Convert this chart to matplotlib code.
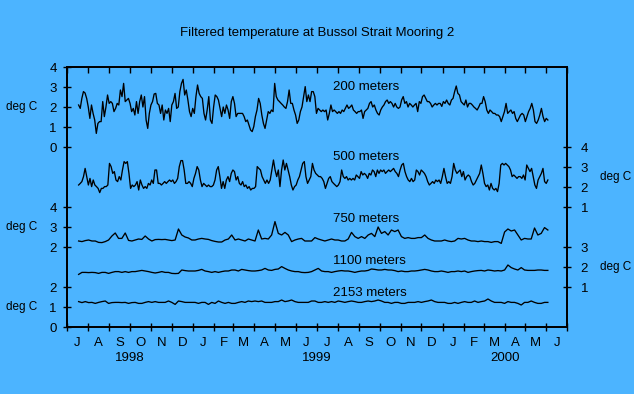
import numpy as np
import pandas as pd
import matplotlib
matplotlib.use('Agg')
import matplotlib.pyplot as plt
import matplotlib.dates as mdates

plt.rcParams['font.family'] = ['Liberation Sans', 'DejaVu Sans']
plt.rcParams['font.size'] = 9.5

# filtered temperature (deg C)
t200 = [2.1, 1.93, 2.43, 2.77, 2.7, 2.43, 2.0, 1.43, 2.1, 1.68,
        1.35, 0.68, 1.18, 1.27, 1.27, 2.27, 1.52, 2.0, 2.6, 2.18,
        2.27, 2.18, 1.77, 1.93, 2.18, 2.1, 2.85, 2.52, 3.18, 2.27,
        2.35, 2.43, 2.18, 1.77, 1.93, 1.6, 2.27, 1.68, 2.27, 2.6,
        2.0, 2.52, 1.35, 0.93, 1.68, 2.1, 2.27, 2.65, 2.68, 2.18,
        2.1, 1.68, 2.1, 1.35, 1.85, 1.68, 1.93, 1.27, 2.1, 2.27,
        2.68, 1.93, 2.0, 2.77, 3.18, 3.38, 2.6, 2.85, 2.35, 1.77,
        1.52, 1.93, 1.68, 2.52, 3.1, 2.68, 2.52, 2.43, 1.68, 1.35,
        1.85, 2.52, 1.35, 1.18, 2.0, 2.6, 2.52, 2.35, 1.93, 1.52,
        2.0, 1.68, 2.1, 1.85, 1.43, 2.27, 2.52, 2.18,
        1.52, 1.68, 1.68, 1.68, 1.68, 1.52, 1.27, 1.35, 1.1, 0.85,
        0.77, 1.02, 1.52, 1.85, 2.43, 2.18, 1.6, 1.18, 0.93, 1.35,
        1.77, 1.68, 1.85, 1.77, 3.18, 2.52, 2.35, 2.27, 2.18, 2.1,
        2.0, 1.93, 2.27, 2.85, 2.18, 2.18, 1.85, 1.6, 1.18, 1.35,
        1.77, 2.0, 2.52, 3.02, 2.27, 2.6, 2.27, 2.77, 2.77, 2.52,
        1.68, 1.93, 1.85, 1.77, 1.85, 1.77, 1.85, 1.35, 1.68, 2.1,
        1.77, 1.85, 1.77, 1.68, 1.77, 1.68, 1.85, 1.77, 1.93, 2.1,
        1.93, 2.0, 2.1, 1.85, 1.77, 1.68, 1.77, 1.77, 1.85, 1.43,
        1.77, 1.85, 1.93, 2.18, 2.27, 2.0, 2.1, 1.85, 1.68, 1.6,
        1.85, 2.0, 2.1, 2.27, 2.35, 2.18, 2.27, 2.18,
        2.0, 2.18, 2.0, 1.93, 2.0, 2.35, 2.52, 2.18, 2.27, 2.0,
        2.18, 2.1, 2.0, 2.1, 2.18, 1.77, 2.27, 2.18, 2.52, 2.6,
        2.43, 2.27, 2.27, 2.18, 2.0, 2.1, 2.18, 2.1, 2.18, 2.18,
        2.03, 2.27, 2.18, 2.35, 2.18, 2.1, 2.35, 2.43, 2.77, 3.05,
        2.68, 2.6, 2.27, 2.18, 2.1, 2.35, 2.0, 2.18, 2.18, 2.1,
        2.0, 1.93, 1.85, 2.0, 2.18, 2.18, 2.52, 2.27, 1.85, 1.68,
        1.85, 1.77, 1.68, 1.68, 1.6, 1.6, 1.52, 1.27, 1.52, 1.77,
        2.18, 1.68, 1.77, 1.85, 1.68, 1.77, 1.43, 1.27, 1.43, 1.6,
        1.68, 1.6, 1.27, 1.52, 1.77, 1.93, 2.18, 1.85, 1.27, 1.18,
        1.35, 1.6, 1.93, 1.52, 1.27, 1.43, 1.35]

t500 = [2.1, 2.18, 2.27, 2.52, 2.93, 2.52, 2.1, 2.43, 2.02, 2.35,
        2.1, 2.02, 1.93, 1.72, 1.93, 1.93, 2.02, 2.02, 2.1, 3.18,
        3.02, 2.68, 2.77, 2.35, 2.27, 2.52, 2.35, 2.85, 3.27, 3.18,
        3.27, 2.68, 1.93, 2.1, 2.02, 2.1, 2.27, 1.85, 2.35, 2.1,
        1.93, 2.02, 1.93, 2.18, 2.1, 2.35, 2.18, 2.85, 2.85, 2.18,
        2.18, 2.1, 2.18, 2.27, 2.18, 2.27, 2.35, 2.27, 2.35, 2.18,
        2.27, 2.43, 3.02, 3.32, 3.32, 2.85, 2.18, 2.18, 2.27, 2.18,
        2.02, 2.43, 2.68, 3.02, 2.85, 2.35, 2.02, 2.18, 2.1, 2.02,
        2.1, 2.02, 2.02, 2.1, 2.35, 2.85, 3.02, 2.52, 1.93, 2.27,
        1.93, 2.35, 2.52, 2.27, 2.68, 2.85, 2.77,
        2.35, 2.52, 2.18, 2.1, 2.27, 2.02, 2.1, 1.93, 2.02, 1.85,
        1.93, 1.93, 2.02, 3.02, 2.93, 2.85, 2.52, 2.35, 2.18, 2.35,
        2.18, 2.35, 2.85, 3.35, 2.85, 2.52, 2.85, 2.02, 2.85, 3.35,
        2.85, 3.18, 2.85, 2.52, 2.1, 1.85, 2.02, 2.1, 2.35, 2.52,
        2.85, 3.18, 3.27, 2.52, 2.18, 2.35, 2.52, 3.18, 2.85, 2.68,
        2.6, 2.52, 2.52, 2.43, 2.27, 1.93, 2.18, 2.43, 2.52, 2.27,
        2.18, 2.1, 2.02, 2.1, 2.27, 2.85, 2.52, 2.43, 2.52, 2.35,
        2.43, 2.35, 2.43, 2.35, 2.6, 2.52, 2.43, 2.77, 2.6, 2.68,
        2.6, 2.43, 2.68, 2.6, 2.85, 2.77, 2.52, 2.85, 2.68, 2.85,
        2.77, 2.85, 2.68, 2.77, 2.85, 2.77,
        2.85, 2.93, 2.77, 2.68, 2.52, 2.85, 3.1, 3.18, 2.77, 2.52,
        2.35, 2.27, 2.43, 2.27, 2.35, 2.85, 2.77, 2.6, 2.85, 2.77,
        2.68, 2.52, 2.27, 2.1, 2.18, 2.27, 2.18, 2.35, 2.27, 2.35,
        2.18, 2.52, 2.93, 2.52, 2.18, 2.27, 2.18, 2.52, 3.18, 2.85,
        2.68, 2.77, 2.85, 2.52, 2.77, 2.35, 2.52, 2.6, 2.52, 2.27,
        2.1, 2.18, 2.35, 2.52, 2.68, 3.1, 2.68, 2.18, 2.02, 2.1,
        1.85, 2.18, 1.93, 1.85, 1.93, 1.77, 2.18, 3.1, 3.18, 3.1,
        3.18, 3.1, 3.02, 2.85, 2.52, 2.6, 2.52, 2.43, 2.52, 2.52,
        2.43, 2.6, 2.35, 3.1, 2.93, 2.77, 2.93, 2.52, 2.1, 1.93,
        2.35, 2.52, 2.68, 2.93, 2.27, 2.18, 2.35]

t750 = [2.3, 2.27, 2.32, 2.35, 2.3, 2.3, 2.23, 2.22, 2.27, 2.35,
        2.55, 2.7, 2.43, 2.43, 2.7, 2.33, 2.3, 2.35, 2.4, 2.38,
        2.55, 2.4, 2.3, 2.37, 2.38, 2.37, 2.38, 2.35, 2.32, 2.35,
        2.9, 2.6, 2.5, 2.45, 2.35, 2.35, 2.4, 2.43, 2.4, 2.38,
        2.32, 2.28, 2.25, 2.25, 2.35, 2.4, 2.6,
        2.35, 2.4, 2.35, 2.3, 2.4, 2.35, 2.3, 2.85, 2.4, 2.43,
        2.4, 2.6, 3.27, 2.68, 2.6, 2.73, 2.6, 2.27, 2.35, 2.4,
        2.43, 2.3, 2.3, 2.3, 2.47, 2.4, 2.35, 2.3, 2.35, 2.4,
        2.35, 2.35, 2.3, 2.3, 2.4, 2.73, 2.52, 2.43, 2.52, 2.43,
        2.6, 2.68, 2.52, 3.0, 2.68, 2.77, 2.6,
        2.85, 2.77, 2.85, 2.52, 2.43, 2.47, 2.43, 2.43, 2.47, 2.47,
        2.6, 2.43, 2.35, 2.3, 2.3, 2.3, 2.35, 2.3, 2.27, 2.3,
        2.43, 2.4, 2.43, 2.35, 2.3, 2.3, 2.27, 2.3, 2.27, 2.27,
        2.23, 2.27, 2.27, 2.18, 2.75, 2.9, 2.8, 2.85, 2.6, 2.35,
        2.43, 2.4, 2.4, 2.95, 2.6, 2.68, 2.97, 2.85]

t1100 = [1.63, 1.73, 1.73, 1.72, 1.73, 1.72, 1.68, 1.73, 1.73, 1.68,
         1.73, 1.77, 1.77, 1.73, 1.77, 1.73, 1.77, 1.77, 1.8, 1.83,
         1.8, 1.77, 1.73, 1.7, 1.73, 1.77, 1.73, 1.73, 1.68, 1.67,
         1.68, 1.85, 1.82, 1.8, 1.8, 1.8, 1.83, 1.88, 1.8, 1.77,
         1.73, 1.77, 1.73, 1.77, 1.8, 1.8, 1.85,
         1.85, 1.8, 1.88, 1.85, 1.82, 1.8, 1.8, 1.82, 1.85, 1.93,
         1.85, 1.83, 1.88, 1.9, 2.02, 1.93, 1.85, 1.8, 1.77, 1.77,
         1.73, 1.72, 1.73, 1.77, 1.85, 1.93, 1.8, 1.77, 1.77, 1.73,
         1.77, 1.8, 1.82, 1.8, 1.8, 1.77, 1.73, 1.77, 1.8, 1.8,
         1.83, 1.9, 1.88, 1.85, 1.85, 1.88, 1.85,
         1.85, 1.82, 1.77, 1.8, 1.77, 1.77, 1.8, 1.8, 1.82, 1.85,
         1.88, 1.85, 1.8, 1.77, 1.77, 1.8, 1.77, 1.73, 1.77, 1.77,
         1.8, 1.77, 1.8, 1.73, 1.77, 1.8, 1.82, 1.83, 1.8, 1.85,
         1.83, 1.8, 1.82, 1.8, 1.85, 2.1, 1.97, 1.9, 1.85, 1.97,
         1.85, 1.83, 1.83, 1.83, 1.85, 1.85, 1.83, 1.83]

t2153 = [1.27, 1.22, 1.27, 1.22, 1.23, 1.18, 1.23, 1.27, 1.3, 1.18,
         1.22, 1.23, 1.23, 1.22, 1.23, 1.18, 1.22, 1.23, 1.18, 1.18,
         1.23, 1.27, 1.23, 1.27, 1.23, 1.23, 1.23, 1.3, 1.23, 1.13,
         1.3, 1.27, 1.23, 1.23, 1.23, 1.23, 1.18, 1.23, 1.23, 1.13,
         1.23, 1.18, 1.3, 1.23, 1.18, 1.23, 1.18,
         1.18, 1.23, 1.27, 1.23, 1.3, 1.27, 1.3, 1.27, 1.3, 1.23,
         1.23, 1.23, 1.27, 1.27, 1.35, 1.27, 1.3, 1.35, 1.27, 1.23,
         1.23, 1.23, 1.23, 1.3, 1.3, 1.23, 1.23, 1.27, 1.23, 1.27,
         1.23, 1.3, 1.27, 1.23, 1.27, 1.3, 1.27, 1.23, 1.23, 1.27,
         1.3, 1.27, 1.3, 1.35, 1.3, 1.23, 1.23,
         1.18, 1.23, 1.23, 1.18, 1.18, 1.23, 1.23, 1.23, 1.27, 1.23,
         1.27, 1.3, 1.35, 1.27, 1.23, 1.23, 1.23, 1.18, 1.18, 1.23,
         1.18, 1.23, 1.27, 1.23, 1.23, 1.3, 1.23, 1.27, 1.3, 1.4,
         1.3, 1.23, 1.23, 1.23, 1.18, 1.27, 1.23, 1.23, 1.18, 1.1,
         1.23, 1.23, 1.3, 1.23, 1.18, 1.18, 1.23, 1.23]

depth_labels = ['200 meters', '500 meters', '750 meters', '1100 meters', '2153 meters']
first_day = '1998-07-18'
last_day = '2000-06-03'
month_letters = ['J', 'A', 'S', 'O', 'N', 'D', 'J', 'F', 'M', 'A', 'M', 'J',
                 'J', 'A', 'S', 'O', 'N', 'D', 'J', 'F', 'M', 'A', 'M', 'J']
years = ['1998', '1999', '2000']
year_centres = ['1998-10-01', '1999-07-01', '2000-04-01']

# each record sits on its own band of a common 0..13 scale
offsets = [9, 5, 2, 1, 0]
left_ticks = {9: [0, 1, 2, 3, 4], 2: [2, 3, 4], 0: [0, 1, 2]}
right_ticks = {5: [1, 2, 3, 4], 1: [1, 2, 3]}

bg = '#4cb4ff'
W, H = 634, 394


def fx(px):
    return px / W


def fy(py):
    return 1 - py / H


def dnum(d):
    return mdates.date2num(pd.DatetimeIndex(d).to_pydatetime())


fig = plt.figure(figsize=(W / 100, H / 100), dpi=100, facecolor=bg)
ax = fig.add_axes([fx(67), fy(327), 500 / W, 260 / H], facecolor=bg)

series = [t200, t500, t750, t1100, t2153]
for vals, off in zip(series, offsets):
    days = dnum(pd.date_range(first_day, last_day, periods=len(vals)))
    ax.plot(days, np.array(vals) + off, color='black', lw=0.95)

months = pd.date_range('1998-07-01', '2000-07-01', freq='MS')
mids = months[:-1] + (months[1:] - months[:-1]) / 2
ax.set_xlim(dnum(months[[0, -1]]))
ax.set_ylim(0, 13)

ax.set_xticks(dnum(months))
ax.set_xticklabels([])
ax.set_xticks(dnum(mids), minor=True)
ax.set_xticklabels(month_letters, minor=True)
ax.tick_params(axis='x', which='major', direction='inout', length=5.8, width=1)
ax.tick_params(axis='x', which='minor', length=0, pad=7.5)

yt, yl = [], []
for off, labs in left_ticks.items():
    for v in labs:
        yt.append(v + off)
        yl.append(str(v))
ax.set_yticks(yt)
ax.set_yticklabels(yl)
ax.tick_params(axis='y', direction='inout', length=5.8, width=1, pad=4.5)

axr = ax.twinx()
axr.set_ylim(0, 13)
rt, rl = [], []
for off, labs in right_ticks.items():
    for v in labs:
        rt.append(v + off)
        rl.append(str(v))
axr.set_yticks(rt)
axr.set_yticklabels(rl)
axr.tick_params(axis='y', direction='inout', length=5.8, width=1, pad=7)

axt = ax.twiny()
axt.set_xlim(ax.get_xlim())
axt.set_xticks(dnum(months))
axt.set_xticklabels([])
axt.tick_params(axis='x', direction='in', length=4.3, width=1)

for a in (ax, axr, axt):
    for s in a.spines.values():
        s.set_linewidth(1.2)

for yr, c in zip(years, year_centres):
    ax.text(dnum([c])[0], -0.12, yr, transform=ax.get_xaxis_transform(),
            ha='center', va='center')

fig.text(fx(317), fy(33), 'Filtered temperature at Bussol Strait Mooring 2',
         ha='center', va='center')

for py in (107, 227, 307):
    fig.text(fx(6), fy(py), 'deg C', ha='left', va='center', fontsize=8.5)
for py in (177, 267):
    fig.text(fx(600), fy(py), 'deg C', ha='left', va='center', fontsize=8.5)

for lab, py in zip(depth_labels, (87, 157, 219, 261, 293)):
    fig.text(fx(333), fy(py), lab, ha='left', va='center')

fig.savefig('out.png', dpi=100, facecolor=bg)
